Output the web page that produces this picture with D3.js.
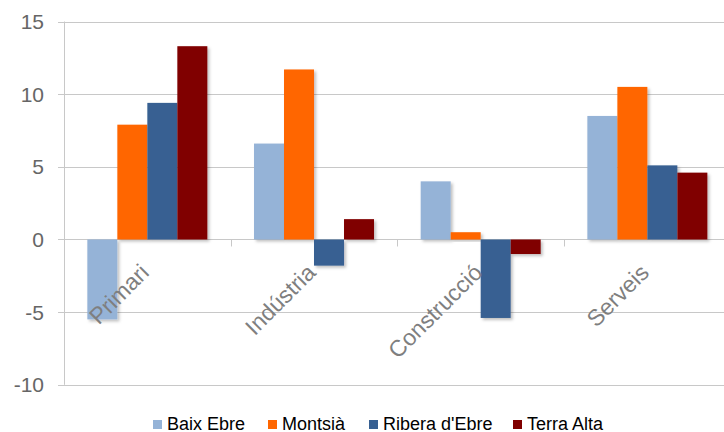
<!DOCTYPE html>
<html lang="ca">
<head>
<meta charset="utf-8">
<title>Variació per sectors</title>
<script src="https://d3js.org/d3.v7.min.js"></script>
<style>
  body { margin: 0; background: #fff; font-family: "Liberation Sans", Arial, sans-serif; }
  svg { display: block; }
</style>
</head>
<body>
<div id="chart"></div>
<script>
// data
var categories = ["Primari", "Indústria", "Construcció", "Serveis"];
var seriesNames = ["Baix Ebre", "Montsià", "Ribera d'Ebre", "Terra Alta"];
var baixEbre  = [-5.5, 6.6, 4.0, 8.5];
var montsia   = [7.9, 11.7, 0.5, 10.5];
var riberaEbre = [9.4, -1.8, -5.4, 5.1];
var terraAlta = [13.3, 1.4, -1.0, 4.6];
var yTicks = [-10, -5, 0, 5, 10, 15];
var colors = ["#95b3d7", "#ff6600", "#376092", "#800000"];

var allSeries = [baixEbre, montsia, riberaEbre, terraAlta];
var rows = categories.map(function(c, i) {
  return { cat: c, vals: seriesNames.map(function(s, j) { return { key: s, value: allSeries[j][i] }; }) };
});

var W = 724, H = 432;
var svg = d3.select("#chart").append("svg").attr("width", W).attr("height", H);

var defs = svg.append("defs");
var f = defs.append("filter").attr("id", "shadow").attr("x", "-20%").attr("y", "-20%").attr("width", "150%").attr("height", "150%");
f.append("feDropShadow").attr("dx", 2).attr("dy", 2).attr("stdDeviation", 1.5)
  .attr("flood-color", "#000").attr("flood-opacity", 0.25);

var left = 64, right = 730.7;
var y = d3.scaleLinear().domain([-10, 15]).range([384.8, 21.5]);
var x0 = d3.scaleBand().domain(categories).range([left, right]).padding(0);
var x1 = d3.scaleBand().domain(seriesNames).range([0, x0.bandwidth()]).paddingInner(0).paddingOuter(0.778);
var color = d3.scaleOrdinal().domain(seriesNames).range(colors);

// gridlines
svg.append("g").selectAll("line").data(yTicks).enter().append("line")
  .attr("x1", left - 6).attr("x2", W)
  .attr("y1", function(d) { return Math.round(y(d)) + 0.5; })
  .attr("y2", function(d) { return Math.round(y(d)) + 0.5; })
  .attr("stroke", "#c8c8c8").attr("stroke-width", 1);

// y axis line
svg.append("line").attr("x1", left + 0.5).attr("x2", left + 0.5)
  .attr("y1", y(15)).attr("y2", y(-10))
  .attr("stroke", "#c8c8c8");

// y tick labels
svg.append("g").selectAll("text").data(yTicks).enter().append("text")
  .attr("x", 44).attr("y", function(d) { return y(d); })
  .attr("dy", "0.36em")
  .attr("text-anchor", "end")
  .attr("font-size", "21px")
  .attr("fill", "#666")
  .text(function(d) { return d; });

// category ticks on zero line
svg.append("g").selectAll("line").data(categories.slice(1)).enter().append("line")
  .attr("x1", function(d) { return Math.round(x0(d)) + 0.5; })
  .attr("x2", function(d) { return Math.round(x0(d)) + 0.5; })
  .attr("y1", y(0)).attr("y2", y(0) + 7)
  .attr("stroke", "#c8c8c8");

// bars
var groups = svg.append("g").selectAll("g").data(rows).enter().append("g")
  .attr("transform", function(d) { return "translate(" + x0(d.cat) + ",0)"; });
groups.selectAll("rect").data(function(d) { return d.vals; }).enter().append("rect")
  .attr("x", function(d) { return x1(d.key); })
  .attr("y", function(d) { return y(Math.max(0, d.value)); })
  .attr("width", x1.bandwidth())
  .attr("height", function(d) { return Math.abs(y(d.value) - y(0)); })
  .attr("fill", function(d) { return color(d.key); })
  .attr("filter", "url(#shadow)");

// category labels, rotated, drawn over the bars
svg.append("g").selectAll("text").data(categories).enter().append("text")
  .attr("transform", function(d) { return "translate(" + (x0(d) + x0.bandwidth() / 2 + 3) + "," + 274 + ") rotate(-45)"; })
  .attr("text-anchor", "end")
  .attr("font-size", "23px")
  .attr("fill", "#7f7f7f")
  .text(function(d) { return d; });

// legend
var legendX = [153, 268, 369, 513];
var leg = svg.append("g").selectAll("g").data(seriesNames).enter().append("g")
  .attr("transform", function(d, i) { return "translate(" + legendX[i] + ",420)"; });
leg.append("rect").attr("width", 9).attr("height", 9).attr("fill", function(d) { return color(d); });
leg.append("text").attr("x", 14).attr("y", 9.5)
  .attr("font-size", "18px").attr("fill", "#000")
  .text(function(d) { return d; });
</script>
</body>
</html>
